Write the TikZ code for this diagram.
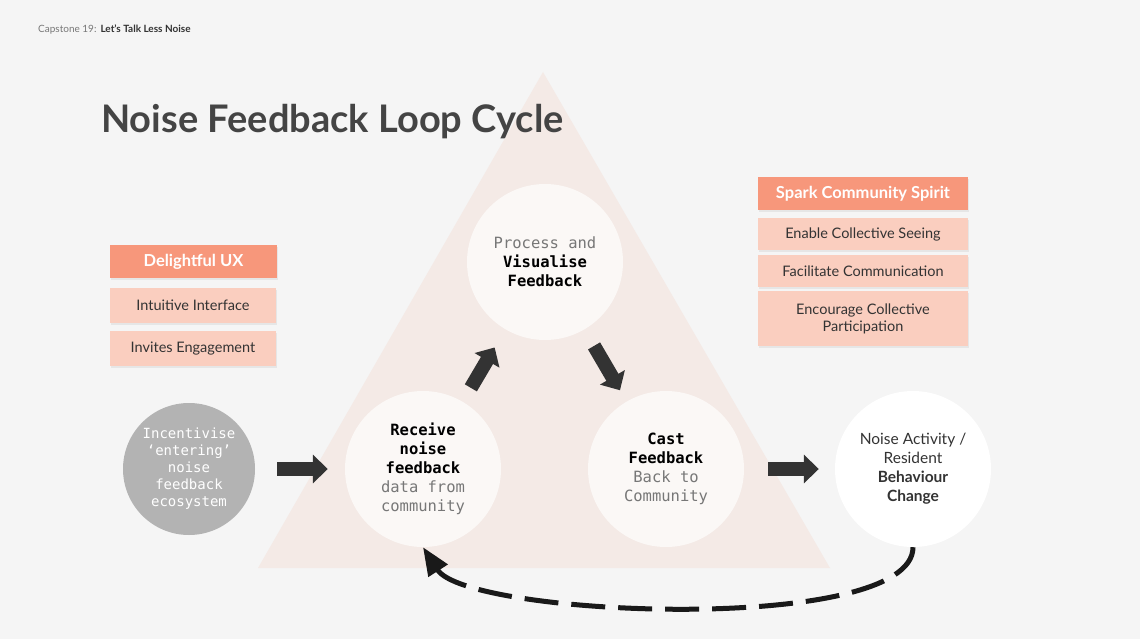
\documentclass[tikz,border=0pt]{standalone}
\usepackage{fontspec}
\setmainfont{Lato}
\setmonofont{DejaVu Sans Mono}
\usetikzlibrary{arrows.meta,shadows}
\definecolor{bg}{HTML}{F5F5F5}
\definecolor{tri}{HTML}{F4EAE6}
\definecolor{hdrc}{HTML}{F7977B}
\definecolor{itemc}{HTML}{FACEBF}
\definecolor{circc}{HTML}{FBF8F6}
\definecolor{grayc}{HTML}{B3B3B3}
\definecolor{arrc}{HTML}{333333}
\definecolor{txt}{HTML}{333333}
\definecolor{titlec}{HTML}{444444}
\definecolor{subt}{HTML}{777777}
\begin{document}
\begin{tikzpicture}[x=1pt,y=-1pt,
  shad/.style={drop shadow={opacity=0.12,shadow xshift=0.5pt,shadow yshift=-2pt}},
  hdr/.style={shad,fill=hdrc,text=white,font=\fontsize{16.5}{19}\selectfont\bfseries,inner sep=0pt,minimum height=33pt},
  item/.style={shad,fill=itemc,text=txt,font=\fontsize{14.5}{17}\selectfont,inner sep=0pt,align=center},
  circ/.style={circle,fill=circc,minimum size=156pt,inner sep=0pt,align=center,text=black,font=\ttfamily\fontsize{15.5}{19}\selectfont},
  blk/.style={draw=arrc,line width=14pt,-{Triangle[length=15pt,width=28pt]}},
  dashloop/.style={draw=black!90,line width=5pt,dash pattern=on 34pt off 13pt,-{Triangle[length=28pt,width=22pt]}}
]
\useasboundingbox (0,0) rectangle (1140,639);
\fill[bg] (0,0) rectangle (1140,639);
% triangle
\fill[tri] (543,72) -- (830,568) -- (258,568) -- cycle;
% header
\node[anchor=base west,inner sep=0pt,font=\fontsize{10}{12}\selectfont] (hd) at (38,32.5)
  {\textcolor{subt}{Capstone 19:}\hspace{4pt}\textcolor{txt}{\bfseries Let's Talk Less Noise}};
\node[anchor=base west,inner sep=0pt,text=titlec,font=\fontsize{38}{42}\selectfont\bfseries] (title) at (101,133)
  {Noise Feedback Loop Cycle};
% left boxes
\node[hdr,minimum width=167pt] (dux) at (193.5,261.5) {Delightful UX};
\node[item,minimum width=166pt,minimum height=35pt] (ii) at (193,305.5) {Intuitive Interface};
\node[item,minimum width=166pt,minimum height=35pt] (ie) at (193,348.5) {Invites Engagement};
% right boxes
\node[hdr,minimum width=210pt] (scs) at (863,193.5) {Spark Community Spirit};
\node[item,minimum width=210pt,minimum height=32pt] (ecs) at (863,234) {Enable Collective Seeing};
\node[item,minimum width=210pt,minimum height=32pt] (fc) at (863,271) {Facilitate Communication};
\node[item,minimum width=210pt,minimum height=55pt] (ecp) at (863,318.5) {Encourage Collective\\Participation};
% circles
\node[circ,fill=grayc,minimum size=132pt,text=white,font=\ttfamily\fontsize{14}{17}\selectfont] (inc) at (189,469)
  {Incentivise\\‘entering’\\noise\\feedback\\ecosystem};
\node[circ] (recv) at (423,469)
  {\textbf{Receive}\\\textbf{noise}\\\textbf{feedback}\\\textcolor{subt}{data from}\\\textcolor{subt}{community}};
\node[circ] (proc) at (545,262)
  {\textcolor{subt}{Process and}\\\textbf{Visualise}\\\textbf{Feedback}};
\node[circ] (cast) at (666,469)
  {\textbf{Cast}\\\textbf{Feedback}\\\textcolor{subt}{Back to}\\\textcolor{subt}{Community}};
\node[circ,fill=white,text=txt,font=\fontsize{15.5}{19}\selectfont] (noise) at (913,469)
  {Noise Activity /\\Resident\\\textbf{Behaviour}\\\textbf{Change}};
% arrows
\draw[blk,shorten <=22pt,shorten >=17pt] (inc) -- (recv);
\draw[blk,shorten <=16pt,shorten >=21pt] (recv) -- (proc);
\draw[blk,shorten <=19pt,shorten >=13pt] (proc) -- (cast);
\draw[blk,shorten <=24pt,shorten >=16pt] (cast) -- (noise);
\draw[dashloop] (noise.south) .. controls +(0,88) and +(45,70) .. (recv.south);
\end{tikzpicture}
\end{document}
